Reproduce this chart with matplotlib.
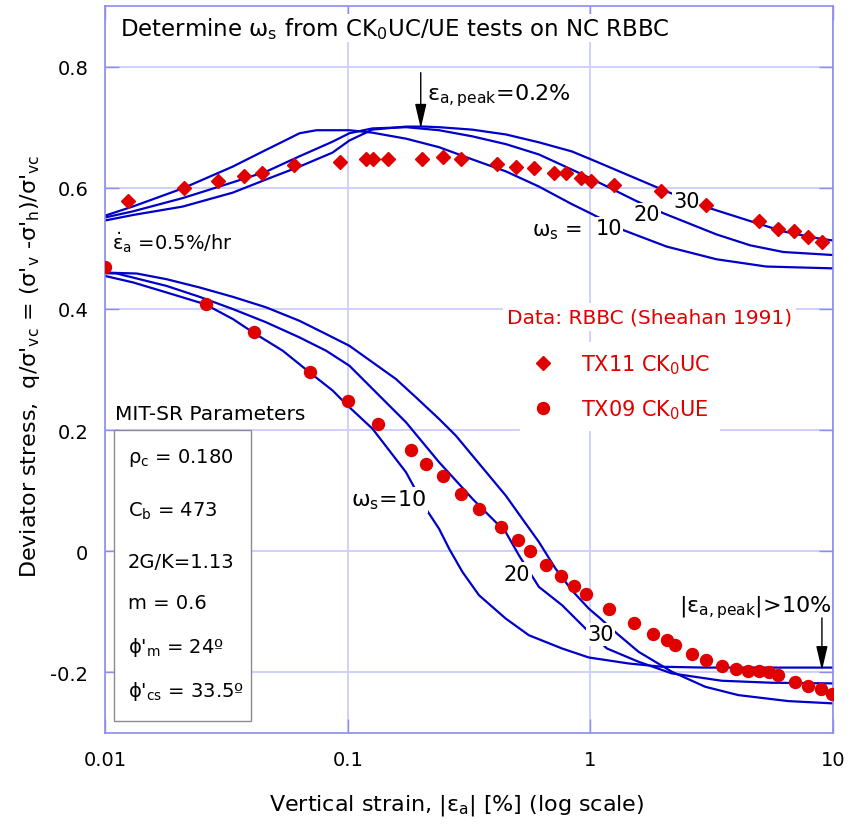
import matplotlib
matplotlib.use('Agg')
import matplotlib.pyplot as plt
from matplotlib.patches import Rectangle
from matplotlib.ticker import NullLocator

plt.rcParams['mathtext.default'] = 'regular'

# CK0UC test TX11 (diamonds)
uc_x = [0.0124, 0.0211, 0.0292, 0.0373, 0.0443, 0.060, 0.0927, 0.1186, 0.1268, 0.146,
        0.2018, 0.246, 0.294, 0.414, 0.496, 0.588, 0.711, 0.796, 0.918, 1.01,
        1.256, 1.96, 3.0, 4.95, 5.94, 6.92, 7.89, 9.01]
uc_y = [0.579, 0.599, 0.611, 0.620, 0.625, 0.637, 0.643, 0.648, 0.648, 0.648,
        0.648, 0.650, 0.647, 0.640, 0.635, 0.632, 0.625, 0.624, 0.616, 0.612,
        0.604, 0.594, 0.571, 0.545, 0.532, 0.528, 0.518, 0.510]

# CK0UE test TX09 (circles)
ue_x = [0.01, 0.0261, 0.041, 0.0698, 0.1, 0.133, 0.1815, 0.211, 0.246, 0.294,
        0.349, 0.430, 0.501, 0.566, 0.659, 0.760, 0.859, 0.963, 1.197, 1.52,
        1.82, 2.07, 2.24, 2.63, 3.0, 3.49, 3.99, 4.47, 4.95, 5.46,
        5.94, 6.98, 7.89, 8.93, 9.9]
ue_y = [0.469, 0.408, 0.362, 0.296, 0.248, 0.210, 0.167, 0.144, 0.125, 0.095,
        0.070, 0.040, 0.019, 0.000, -0.022, -0.040, -0.057, -0.070, -0.095, -0.119,
        -0.137, -0.147, -0.154, -0.169, -0.179, -0.190, -0.195, -0.197, -0.197, -0.200,
        -0.205, -0.216, -0.223, -0.228, -0.236]

# MIT-SR predictions, compression
uc10_x = [0.01, 0.013, 0.0209, 0.0336, 0.0463, 0.0539, 0.0633, 0.0743, 0.0865, 0.1016,
          0.1263, 0.1743, 0.238, 0.3255, 0.449, 0.614, 0.839, 1.0, 1.37, 2.06, 3.31, 5.31, 10]
uc10_y = [0.554, 0.569, 0.599, 0.635, 0.663, 0.676, 0.690, 0.695, 0.695, 0.695,
          0.691, 0.681, 0.667, 0.647, 0.627, 0.602, 0.573, 0.558, 0.530, 0.503, 0.482, 0.470, 0.467]
uc20_x = [0.01, 0.013, 0.0209, 0.0336, 0.0463, 0.0633, 0.0865, 0.1016, 0.1263, 0.1743,
          0.238, 0.3255, 0.449, 0.614, 0.839, 0.985, 1.55, 2.0, 3.31, 4.56, 6.24, 10]
uc20_y = [0.551, 0.561, 0.583, 0.609, 0.627, 0.652, 0.676, 0.690, 0.698, 0.700,
          0.695, 0.685, 0.672, 0.655, 0.630, 0.617, 0.578, 0.558, 0.523, 0.505, 0.494, 0.489]
uc30_x = [0.01, 0.013, 0.0209, 0.0336, 0.0463, 0.0633, 0.0865, 0.1016, 0.1263, 0.1743,
          0.208, 0.238, 0.3255, 0.449, 0.614, 0.839, 1.033, 2.06, 3.01, 4.56, 6.24, 8.52, 10]
uc30_y = [0.546, 0.555, 0.569, 0.592, 0.614, 0.635, 0.658, 0.678, 0.696, 0.701,
          0.701, 0.700, 0.696, 0.688, 0.675, 0.660, 0.645, 0.594, 0.568, 0.545, 0.528, 0.517, 0.513]

# MIT-SR predictions, extension
ue10_x = [0.01, 0.01307, 0.01793, 0.0258, 0.03368, 0.0407, 0.054, 0.0696, 0.0868, 0.1,
          0.1267, 0.1738, 0.21, 0.2379, 0.2618, 0.297, 0.3477, 0.4477, 0.558, 0.765,
          0.985, 1.438, 1.97, 3.0, 10]
ue10_y = [0.4545, 0.4437, 0.4272, 0.4079, 0.3832, 0.3613, 0.331, 0.2954, 0.2651, 0.2404,
          0.202, 0.1306, 0.0702, 0.0372, 0.0043, -0.0341, -0.0726, -0.111, -0.1386, -0.1605,
          -0.1753, -0.1852, -0.1906, -0.192, -0.192]
ue20_x = [0.01, 0.01117, 0.01793, 0.02456, 0.03368, 0.04621, 0.0633, 0.08152, 0.1016, 0.1153,
          0.1393, 0.1738, 0.2034, 0.2379, 0.279, 0.3265, 0.3824, 0.4477, 0.5078, 0.6137,
          0.765, 0.9548, 1.171, 1.58, 2.167, 3.477, 5.57, 10]
ue20_y = [0.459, 0.4585, 0.438, 0.4199, 0.3997, 0.3778, 0.353, 0.331, 0.3063, 0.2843,
          0.2514, 0.213, 0.18, 0.1471, 0.1168, 0.0867, 0.0591, 0.0318, -0.0067, -0.0588,
          -0.0891, -0.1275, -0.1605, -0.1824, -0.2016, -0.2137, -0.217, -0.2181]
ue30_x = [0.01, 0.0135, 0.01793, 0.02456, 0.03368, 0.04621, 0.0633, 0.08152, 0.1016, 0.1581,
          0.191, 0.2379, 0.279, 0.3265, 0.3824, 0.4477, 0.524, 0.6137, 0.7188, 0.841,
          0.985, 1.1, 1.287, 1.58, 2.167, 2.972, 4.07, 6.54, 10]
ue30_y = [0.460, 0.4585, 0.4491, 0.4354, 0.4199, 0.4025, 0.3804, 0.3585, 0.3392, 0.2843,
          0.2542, 0.2185, 0.1909, 0.158, 0.125, 0.0921, 0.0537, 0.0153, -0.0287, -0.0649,
          -0.0946, -0.111, -0.1358, -0.1659, -0.1988, -0.2236, -0.2374, -0.2473, -0.2511]

x_ticks = [0.01, 0.1, 1, 10]
x_ticklabels = ['0.01', '0.1', '1', '10']
y_ticks = [-0.2, 0, 0.2, 0.4, 0.6, 0.8]
y_ticklabels = ['-0.2', '0', '0.2', '0.4', '0.6', '0.8']

params = [r'ρ$_c$ = 0.180', r'C$_b$ = 473', '2G/K=1.13', 'm = 0.6',
          "ϕ'$_m$ = 24º", "ϕ'$_{cs}$ = 33.5º"]

blue = '#0000c8'
red = '#e00000'
frame = '#8c8cf0'
wbox = dict(facecolor='white', edgecolor='none', pad=1)
arrow = dict(arrowstyle='-|>,head_length=1.5,head_width=0.35', color='black',
             lw=1, shrinkA=0, shrinkB=0)

fig = plt.figure(figsize=(8.61, 8.28), dpi=100)
ax = fig.add_axes([0.122, 0.1135, 0.8455, 0.878])
ax.set_xscale('log')
ax.set_xlim(0.01, 10)
ax.set_ylim(-0.3, 0.9)

for cx, cy in [(uc10_x, uc10_y), (uc20_x, uc20_y), (uc30_x, uc30_y),
               (ue10_x, ue10_y), (ue20_x, ue20_y), (ue30_x, ue30_y)]:
    ax.plot(cx, cy, color=blue, lw=1.6, zorder=2)

ax.plot(uc_x, uc_y, 'D', color=red, ms=6.8, ls='none', zorder=5, label=r'TX11 CK$_0$UC')
ax.plot(ue_x, ue_y, 'o', color=red, ms=8.6, ls='none', zorder=5, label=r'TX09 CK$_0$UE')

ax.set_xticks(x_ticks)
ax.set_xticklabels(x_ticklabels)
ax.xaxis.set_minor_locator(NullLocator())
ax.set_yticks(y_ticks)
ax.set_yticklabels(y_ticklabels)
ax.tick_params(direction='in', length=10, width=1, color=frame, top=True, right=True,
               labelsize=14, pad=12)
ax.grid(True, color='#cdcdff', lw=1.3)
ax.set_axisbelow(True)
for s in ax.spines.values():
    s.set_color(frame)
    s.set_linewidth(1.2)

ax.text(0.0115, 0.864, r'Determine $ω_s$ from CK$_0$UC/UE tests on NC RBBC',
        fontsize=16.5, va='center', bbox=wbox, zorder=6)

# peak arrows
ax.annotate('', xy=(0.2, 0.698), xytext=(0.2, 0.79), arrowprops=arrow, zorder=6)
ax.text(0.213, 0.746, r'ε$_{a,peak}$=0.2%', fontsize=16, va='baseline')
ax.annotate('', xy=(9.0, -0.197), xytext=(9.0, -0.11), arrowprops=arrow, zorder=6)
ax.text(9.8, -0.1, r'|ε$_{a,peak}$|>10%', fontsize=16, va='baseline', ha='right')

ax.text(0.0107, 0.499, r'$\dot{ε}_a$ =0.5%/hr', fontsize=14, va='baseline')

# curve labels
ax.text(0.574, 0.522, r'$ω_s$ =', fontsize=15, va='baseline')
ax.text(1.19, 0.533, '10', fontsize=15, ha='center', va='center', bbox=wbox, zorder=4)
ax.text(1.705, 0.556, '20', fontsize=15, ha='center', va='center', bbox=wbox, zorder=4)
ax.text(2.49, 0.578, '30', fontsize=15, ha='center', va='center', bbox=wbox, zorder=4)
ax.text(0.1035, 0.075, r'$ω_s$=10', fontsize=16, va='baseline', bbox=wbox, zorder=4)
ax.text(0.498, -0.037, '20', fontsize=15, ha='center', va='center', bbox=wbox, zorder=4)
ax.text(1.103, -0.137, '30', fontsize=15, ha='center', va='center', bbox=wbox, zorder=4)

# data legend
ax.text(1.754, 0.3865, 'Data: RBBC (Sheahan 1991)', color=red, fontsize=14.5,
        ha='center', va='center', bbox=dict(facecolor='white', edgecolor='none', pad=3), zorder=6)
leg = ax.legend(loc='upper left', bbox_to_anchor=(0.556, 0.552), fontsize=15,
                labelcolor=red, frameon=True, edgecolor='none', fancybox=False,
                handlelength=1.2, handletextpad=1.2, labelspacing=1.0, borderpad=0.5)
leg.get_frame().set_alpha(1)

# parameter box
ax.text(0.011, 0.2185, 'MIT-SR Parameters', fontsize=14.5, va='baseline')
ax.add_patch(Rectangle((0.0124, 0.0165), 0.188, 0.4003, transform=ax.transAxes,
                       facecolor='white', edgecolor='#8c8c8c', lw=1, zorder=3))
param_y = [0.3728, 0.2985, 0.2283, 0.1719, 0.1114, 0.0509]
for txt, yy in zip(params, param_y):
    ax.text(0.0316, yy, txt, fontsize=14, va='baseline', transform=ax.transAxes, zorder=4)

fig.text(457 / 861, 0.0217, r'Vertical strain, |ε$_a$| [%] (log scale)', fontsize=16,
         ha='center', va='baseline')
fig.text(30 / 861, 1 - 366 / 828, r"Deviator stress,  q/σ'$_{vc}$ = (σ'$_v$ -σ'$_h$)/σ'$_{vc}$",
         fontsize=16, ha='center', va='center', rotation=90)

fig.savefig('out.png', dpi=100)
